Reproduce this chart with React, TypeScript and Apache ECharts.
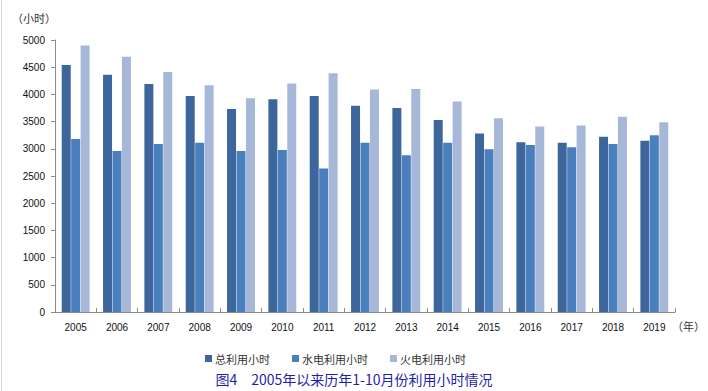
import React, { useEffect, useRef } from "react";
import * as echarts from "echarts";

const years = ["2005", "2006", "2007", "2008", "2009", "2010", "2011", "2012", "2013", "2014", "2015", "2016", "2017", "2018", "2019"];
const totalHours = [4540, 4360, 4190, 3970, 3730, 3910, 3970, 3790, 3750, 3530, 3280, 3120, 3110, 3220, 3150];
const hydroHours = [3180, 2960, 3090, 3110, 2960, 2980, 2640, 3110, 2880, 3110, 2990, 3070, 3030, 3090, 3250];
const thermalHours = [4900, 4690, 4410, 4170, 3930, 4200, 4390, 4090, 4100, 3870, 3560, 3410, 3430, 3590, 3490];
const seriesNames = ["总利用小时", "水电利用小时", "火电利用小时"];
const yTicks = { min: 0, max: 5000, interval: 500 };

export default function App() {
  const ref = useRef<HTMLDivElement>(null);
  useEffect(() => {
    if (!ref.current) return;
    const chart = echarts.init(ref.current, null, { renderer: "svg" });
    const font = "'Liberation Sans', Arial, sans-serif";
    const cjk = "'Noto Sans CJK SC', sans-serif";
    const barStyle = (color: string) => ({ color });
    chart.setOption({
      animation: false,
      backgroundColor: "#ffffff",
      grid: { left: 55, right: 33, top: 40, bottom: 79, containLabel: false },
      title: {
        text: "图4　2005年以来历年1-10月份利用小时情况",
        left: "center",
        top: 370,
        padding: [0, 0, 0, 0],
        textStyle: { color: "#1f1fa8", fontSize: 14, fontWeight: "normal", fontFamily: cjk, lineHeight: 18 },
      },
      legend: {
        left: 205,
        top: 353,
        padding: [0, 0, 0, 0],
        itemWidth: 7,
        itemHeight: 7,
        itemGap: 22,
        icon: "rect",
        textStyle: { color: "#333", fontSize: 11, fontFamily: cjk, padding: [0, 0, 0, -2] },
        data: seriesNames,
      },
      xAxis: {
        type: "category",
        data: years,
        axisLine: { lineStyle: { color: "#8c8c8c", width: 1 } },
        axisTick: { show: true, inside: true, length: 4, lineStyle: { color: "#8c8c8c" } },
        axisLabel: { color: "#111", fontSize: 10, fontFamily: font, margin: 10 },
        splitLine: { show: false },
      },
      yAxis: {
        type: "value",
        min: yTicks.min,
        max: yTicks.max,
        interval: yTicks.interval,
        axisLine: { show: true, lineStyle: { color: "#8c8c8c", width: 1 } },
        axisTick: { show: true, length: 4, lineStyle: { color: "#8c8c8c" } },
        axisLabel: { color: "#111", fontSize: 10, fontFamily: font, margin: 10, formatter: (v: number) => String(v) },
        splitLine: { show: false },
      },
      graphic: [
        { type: "text", left: 12, top: 12, style: { text: "（小时）", fill: "#333", fontSize: 11, fontFamily: cjk } },
        { type: "text", left: 672, top: 320, style: { text: "（年）", fill: "#333", fontSize: 11, fontFamily: cjk } },
        { type: "line", shape: { x1: 1.5, y1: 0, x2: 1.5, y2: 391 }, style: { stroke: "#ddd5c6", lineWidth: 1 } },
      ],
      series: [
        { name: seriesNames[0], type: "bar", data: totalHours, barWidth: 9, barGap: "5%", itemStyle: barStyle("#3d679c") },
        { name: seriesNames[1], type: "bar", data: hydroHours, barWidth: 9, barGap: "5%", itemStyle: barStyle("#4a7fbd") },
        { name: seriesNames[2], type: "bar", data: thermalHours, barWidth: 9, barGap: "5%", itemStyle: barStyle("#a6b7d8") },
      ],
    });
    return () => chart.dispose();
  }, []);
  return <div ref={ref} style={{ position: "fixed", left: 0, top: 0, width: 708, height: 391 }} />;
}
